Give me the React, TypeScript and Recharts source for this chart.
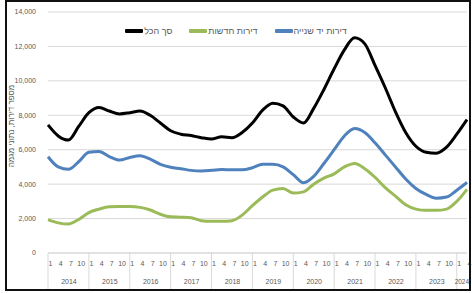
import { LineChart, Line, CartesianGrid, XAxis, YAxis, Legend } from "recharts";

const years = ["2014", "2015", "2016", "2017", "2018", "2019", "2020", "2021", "2022", "2023", "2024"];
const quarters = ["1", "4", "7", "10"];

// quarterly trend, 2014 Q1 .. 2024 Q2
const total = [
  7440, 6800, 6560, 7350, 8150, 8450, 8250, 8080, 8150, 8250, 8000, 7550,
  7100, 6900, 6820, 6700, 6620, 6750, 6700, 7000, 7550, 8300, 8700, 8550,
  7900, 7550, 8400, 9500, 10700, 11800, 12500, 12150, 10900, 9600, 8200, 7000,
  6200, 5850, 5800, 6150, 6900, 7750,
];
const newApts = [
  1940, 1750, 1680, 1950, 2350, 2550, 2680, 2700, 2700, 2650, 2500, 2250,
  2100, 2080, 2050, 1880, 1850, 1850, 1880, 2200, 2750, 3250, 3650, 3750,
  3480, 3550, 4000, 4350, 4600, 5000, 5200, 4900, 4400, 3800, 3300, 2800,
  2550, 2480, 2480, 2550, 3000, 3700,
];
const secondHand = [
  5590, 5000, 4860, 5300, 5850, 5900, 5600, 5400, 5550, 5650, 5450, 5150,
  4980, 4900, 4800, 4770, 4800, 4850, 4830, 4830, 4950, 5150, 5150, 5000,
  4550, 4080, 4450, 5200, 6000, 6800, 7230, 7000, 6400, 5700, 5000, 4300,
  3750, 3400, 3180, 3250, 3650, 4100,
];
const yTicks = [0, 2000, 4000, 6000, 8000, 10000, 12000, 14000];

const series = [
  { key: "total", name: "סך הכל", color: "#000000" },
  { key: "newApts", name: "דירות חדשות", color: "#9BBB59" },
  { key: "secondHand", name: "דירות יד שנייה", color: "#4F81BD" },
];

const data = total.map((t, i) => ({
  key: years[Math.floor(i / 4)] + "-" + quarters[i % 4],
  total: t,
  newApts: newApts[i],
  secondHand: secondHand[i],
}));

const W = 472;
const H = 293;
const LEFT = 48;
const RIGHT = 5;
const STEP = (W - LEFT - RIGHT) / (data.length - 1);
const GRAY = "#595959";
const GRID = "#d9d9d9";
const FONT = "'Liberation Sans', Arial, sans-serif";

const XTick = (props: any) => {
  const { x, y, index } = props;
  const q = index % 4;
  const yearIdx = Math.floor(index / 4);
  const fullYear = index + 3 <= data.length - 1;
  return (
    <g>
      <text x={x + 2.5} y={y + 13} textAnchor="middle" fontSize={7} fill={GRAY} fontFamily={FONT}>
        {quarters[q]}
      </text>
      {q === 0 && (
        <>
          <line x1={x} y1={y} x2={x} y2={y + 37} stroke={GRID} strokeWidth={1} />
          <text
            x={x + (fullYear ? 2.05 : 0.5) * STEP}
            y={y + 31}
            textAnchor="middle"
            fontSize={fullYear ? 7 : 6.5}
            fill={GRAY}
            fontFamily={FONT}
          >
            {years[yearIdx]}
          </text>
        </>
      )}
    </g>
  );
};

const LegendContent = () => (
  <div style={{ display: "flex", justifyContent: "center", alignItems: "center", gap: 17, fontFamily: FONT }}>
    {series.map((s) => (
      <div key={s.key} style={{ display: "flex", alignItems: "center" }}>
        <span style={{ display: "inline-block", width: 18, height: 3.5, background: s.color, borderRadius: 1 }} />
        <span style={{ fontSize: 9, color: GRAY, marginLeft: 1 }}>{s.name}</span>
      </div>
    ))}
  </div>
);

const YTitle = () => (
  <text
    x={11}
    y={126}
    transform="rotate(-90 11 126)"
    textAnchor="middle"
    dominantBaseline="central"
    fontSize={8}
    fill={GRAY}
    fontFamily={FONT}
  >
    מספר דירות, נתוני מגמה
  </text>
);

export default function App() {
  return (
    <div style={{ position: "fixed", left: 0, top: 0, width: W, height: H, background: "#fff" }}>
      <LineChart width={W} height={H} data={data} margin={{ top: 12, right: RIGHT, left: 0, bottom: 0 }}>
        <CartesianGrid vertical={false} stroke={GRID} />
        <XAxis
          dataKey="key"
          interval={0}
          tickSize={0}
          tickMargin={0}
          height={40}
          tickLine={false}
          axisLine={{ stroke: GRID }}
          tick={<XTick />}
        />
        <YAxis
          width={LEFT}
          domain={[0, 14000]}
          ticks={yTicks}
          axisLine={false}
          tickLine={false}
          tickMargin={6}
          tickFormatter={(v: number) => v.toLocaleString("en-US")}
          tick={{ fontSize: 7, fill: GRAY, fontFamily: FONT }}
          label={<YTitle />}
        />
        <Legend
          layout="horizontal"
          verticalAlign="middle"
          align="center"
          wrapperStyle={{ top: 26, left: 0, width: W }}
          content={<LegendContent />}
        />
        {series.map((s) => (
          <Line
            key={s.key}
            type="monotone"
            dataKey={s.key}
            name={s.name}
            stroke={s.color}
            strokeWidth={3}
            dot={false}
            isAnimationActive={false}
          />
        ))}
      </LineChart>
      <div
        style={{
          position: "absolute",
          left: 5,
          top: 0,
          width: 466,
          height: 291,
          border: "2px solid #111",
          boxSizing: "border-box",
          pointerEvents: "none",
        }}
      />
    </div>
  );
}
